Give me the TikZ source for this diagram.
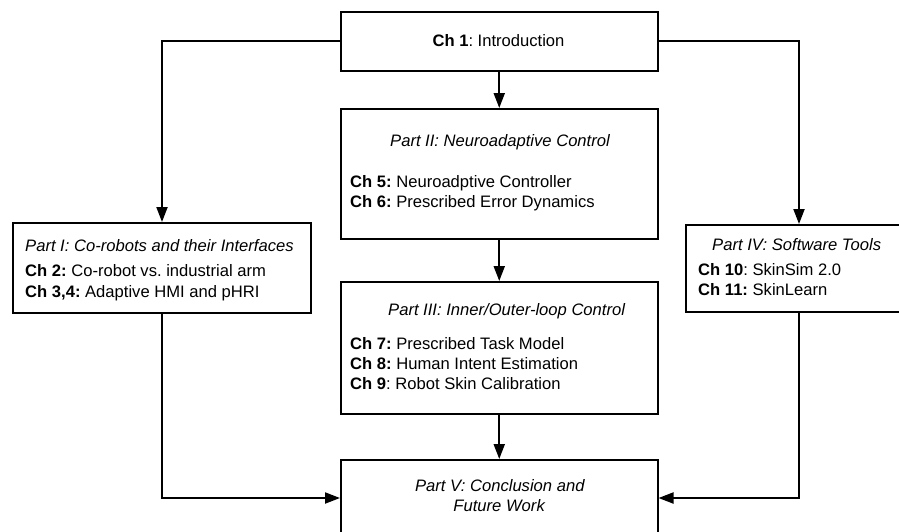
\documentclass[tikz,border=0pt]{standalone}
\usepackage{fontspec}
\setmainfont{Liberation Sans}
\usetikzlibrary{arrows.meta}
\frenchspacing
\begin{document}
\begin{tikzpicture}[x=1pt,y=-1pt,
  box/.style={draw,line width=2pt,rectangle,anchor=north west,inner sep=0pt},
  txt/.style={inner sep=0pt,font=\fontsize{16.6pt}{20pt}\selectfont},
  conn/.style={line width=2pt,-{Triangle[length=15pt,width=11pt]}}]
\clip (0,0) rectangle (899,531);
\useasboundingbox (0,0) rectangle (899,531);
% boxes
\node[box,minimum width=316.5pt,minimum height=59.5pt] (ch1) at (340,10.5) {};
\node[box,minimum width=316.5pt,minimum height=130pt] (p2) at (340,108) {};
\node[box,minimum width=316.5pt,minimum height=132pt] (p3) at (340,281) {};
\node[box,minimum width=316.5pt,minimum height=76pt] (p5) at (340,459) {};
\node[box,minimum width=298pt,minimum height=90pt] (p1) at (12,222) {};
\node[box,minimum width=226pt,minimum height=87pt] (p4) at (685,224) {};
% texts
\node[txt,anchor=base] (t1) at (498.5,46.5) {\textbf{Ch 1}: Introduction};
\node[txt,anchor=base west] (t2a) at (390,146.5) {\textit{Part II: Neuroadaptive Control}};
\node[txt,anchor=base west] (t2b) at (350,187) {\textbf{Ch 5:} Neuroadptive Controller};
\node[txt,anchor=base west] (t2c) at (350,207) {\textbf{Ch 6:} Prescribed Error Dynamics};
\node[txt,anchor=base west] (t3a) at (388,315) {\textit{Part III: Inner/Outer-loop Control}};
\node[txt,anchor=base west] (t3b) at (350,349) {\textbf{Ch 7:} Prescribed Task Model};
\node[txt,anchor=base west] (t3c) at (350,369) {\textbf{Ch 8:} Human Intent Estimation};
\node[txt,anchor=base west] (t3d) at (350,389) {\textbf{Ch 9}: Robot Skin Calibration};
\node[txt,anchor=base] (t5a) at (500,491.5) {\textit{Part V: Conclusion and}};
\node[txt,anchor=base] (t5b) at (499.5,511.5) {\textit{Future Work}};
\node[txt,anchor=base west] (t1a) at (25,251) {\textit{Part I: Co-robots and their Interfaces}};
\node[txt,anchor=base west] (t1b) at (25,276) {\textbf{Ch 2:} Co-robot vs. industrial arm};
\node[txt,anchor=base west] (t1c) at (25,297) {\textbf{Ch 3,4:} Adaptive HMI and pHRI};
\node[txt,anchor=base west] (t4a) at (712,250.5) {\textit{Part IV: Software Tools}};
\node[txt,anchor=base west] (t4b) at (698,275) {\textbf{Ch 10}: SkinSim 2.0};
\node[txt,anchor=base west] (t4c) at (698,295) {\textbf{Ch 11:} SkinLearn};
% connectors
\draw[conn] (ch1.west) -| (p1.north);
\draw[conn] (ch1.east) -| (p4.north);
\draw[conn] (ch1.south) -- (p2.north);
\draw[conn] (p2.south) -- (p3.north);
\draw[conn] (p3.south) -- (p5.north);
\draw[conn] (p1.south) |- (p5.west);
\draw[conn] (p4.south) |- (p5.east);
\end{tikzpicture}
\end{document}
